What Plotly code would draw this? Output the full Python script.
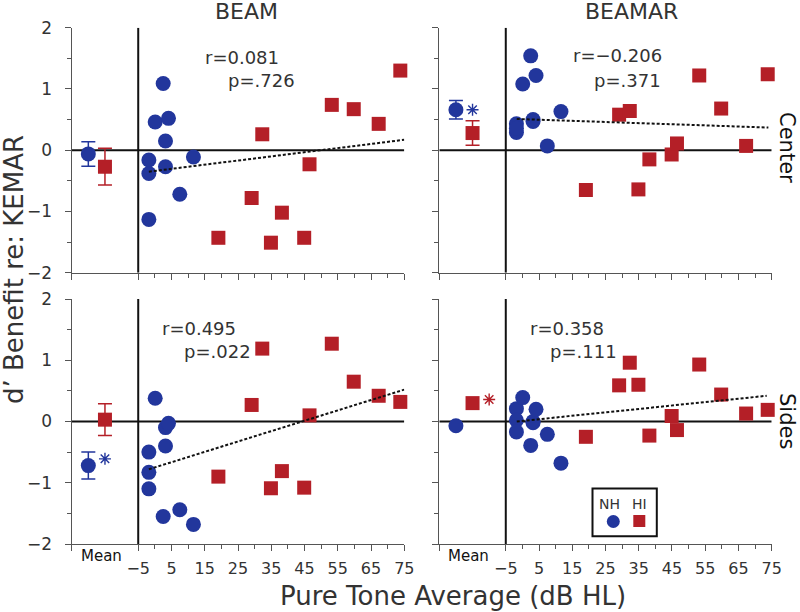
import plotly.graph_objects as go

# ---------------- data ----------------
PTA_NH = [-1.8, -1.8, -1.8, 0.1, 2.5, 3.2, 3.2, 4.1, 7.5, 11.6]
PTA_HI = [19.1, 29.1, 32.3, 34.9, 38.2, 44.9, 46.5, 53.2, 59.8, 67.3, 73.8]

NH_BEAM_CENTER = [-0.16, -0.38, -1.13, 0.46, 1.09, 0.15, -0.27, 0.52, -0.72, -0.11]
HI_BEAM_CENTER = [-1.43, -0.78, 0.26, -1.51, -1.02, -1.43, -0.23, 0.74, 0.67, 0.43, 1.30]

NH_BEAMAR_CENTER = [0.43, 0.29, 0.36, 1.08, 1.54, 0.50, 0.47, 1.22, 0.07, 0.63]
HI_BEAMAR_CENTER = [-0.65, 0.58, 0.64, -0.64, -0.15, -0.07, 0.11, 1.22, 0.68, 0.07, 1.24]

NH_BEAM_SIDES = [-0.50, -0.83, -1.10, 0.38, -1.55, -0.10, -0.40, -0.03, -1.44, -1.68]
HI_BEAM_SIDES = [-0.90, 0.27, 1.19, -1.09, -0.81, -1.08, 0.10, 1.27, 0.65, 0.42, 0.32]

NH_BEAMAR_SIDES = [0.21, 0.02, -0.17, 0.39, -0.39, -0.02, 0.00, 0.20, -0.21, -0.68]
HI_BEAMAR_SIDES = [-0.25, 0.59, 0.96, 0.60, -0.23, 0.09, -0.14, 0.93, 0.44, 0.13, 0.19]

MEAN_X = [-20, -15]  # NH mean, HI mean positions in the "Mean" column
MEAN_BEAM_CENTER = [-0.06, -0.27]
ERR_BEAM_CENTER = [0.20, 0.30]
MEAN_BEAMAR_CENTER = [0.66, 0.28]
ERR_BEAMAR_CENTER = [0.15, 0.20]
MEAN_BEAM_SIDES = [-0.72, 0.03]
ERR_BEAM_SIDES = [0.22, 0.26]
MEAN_BEAMAR_SIDES = [-0.07, 0.30]
ERR_BEAMAR_SIDES = [0.0, 0.0]

# significance asterisks: x, y, group
STAR_BEAMAR_CENTER = [-15.0, 0.66, "NH"]
STAR_BEAM_SIDES = [-15.0, -0.61, "NH"]
STAR_BEAMAR_SIDES = [-10.0, 0.36, "HI"]

FIT_BEAM_CENTER_X = [-1.8, 75.0]
FIT_BEAM_CENTER_Y = [-0.35, 0.17]
FIT_BEAMAR_CENTER_X = [-1.7, 74.0]
FIT_BEAMAR_CENTER_Y = [0.51, 0.37]
FIT_BEAM_SIDES_X = [-1.8, 75.0]
FIT_BEAM_SIDES_Y = [-0.78, 0.52]
FIT_BEAMAR_SIDES_X = [-1.7, 73.5]
FIT_BEAMAR_SIDES_Y = [0.0, 0.42]

STATS_BEAM_CENTER = ["r=0.081", "p=.726"]
STATS_BEAMAR_CENTER = ["r=−0.206", "p=.371"]
STATS_BEAM_SIDES = ["r=0.495", "p=.022"]
STATS_BEAMAR_SIDES = ["r=0.358", "p=.111"]

X_TICKS = [-25, -5, 5, 15, 25, 35, 45, 55, 65, 75]
X_TICK_TEXT = ["", "−5", "5", "15", "25", "35", "45", "55", "65", "75"]
X_MINOR = [0, 10, 20, 30, 40, 50, 60, 70]
Y_TICKS = [-2, -1, 0, 1, 2]
Y_TICK_TEXT = ["−2", "−1", "0", "1", "2"]

COLUMN_TITLES = ["BEAM", "BEAMAR"]
ROW_TITLES = ["Center", "Sides"]

# ---------------- style ----------------
BLUE = "#22369c"
RED = "#b41f27"
FONT = "DejaVu Sans"
TXT = "#333333"
AX = "#555555"

W, H = 800, 612
LEFT_DOM = [71.7 / W, 404.3 / W]
RIGHT_DOM = [439.3 / W, 771.7 / W]
TOP_DOM = [1 - 272.7 / H, 1 - 27.7 / H]
BOT_DOM = [1 - 544.0 / H, 1 - 299.0 / H]

panels = [
    dict(n="", xd=LEFT_DOM, yd=TOP_DOM, nh=NH_BEAM_CENTER, hi=HI_BEAM_CENTER,
         m=MEAN_BEAM_CENTER, e=ERR_BEAM_CENTER, fx=FIT_BEAM_CENTER_X, fy=FIT_BEAM_CENTER_Y,
         star=None, st=STATS_BEAM_CENTER, rpos=(26.1, 1.52), ppos=(32.1, 1.14),
         xlab=False, ylab=True, mean_px=None),
    dict(n="2", xd=RIGHT_DOM, yd=TOP_DOM, nh=NH_BEAMAR_CENTER, hi=HI_BEAMAR_CENTER,
         m=MEAN_BEAMAR_CENTER, e=ERR_BEAMAR_CENTER, fx=FIT_BEAMAR_CENTER_X, fy=FIT_BEAMAR_CENTER_Y,
         star=STAR_BEAMAR_CENTER, st=STATS_BEAMAR_CENTER, rpos=(28.6, 1.54), ppos=(31.6, 1.14),
         xlab=False, ylab=False, mean_px=None),
    dict(n="3", xd=LEFT_DOM, yd=BOT_DOM, nh=NH_BEAM_SIDES, hi=HI_BEAM_SIDES,
         m=MEAN_BEAM_SIDES, e=ERR_BEAM_SIDES, fx=FIT_BEAM_SIDES_X, fy=FIT_BEAM_SIDES_Y,
         star=STAR_BEAM_SIDES, st=STATS_BEAM_SIDES, rpos=(13.2, 1.52), ppos=(18.9, 1.15),
         xlab=True, ylab=True, mean_px=78.5),
    dict(n="4", xd=RIGHT_DOM, yd=BOT_DOM, nh=NH_BEAMAR_SIDES, hi=HI_BEAMAR_SIDES,
         m=MEAN_BEAMAR_SIDES, e=ERR_BEAMAR_SIDES, fx=FIT_BEAMAR_SIDES_X, fy=FIT_BEAMAR_SIDES_Y,
         star=STAR_BEAMAR_SIDES, st=STATS_BEAMAR_SIDES, rpos=(13.3, 1.52), ppos=(18.5, 1.15),
         xlab=True, ylab=False, mean_px=445.5),
]

fig = go.Figure()
layout = {}
shapes = []
annotations = []


def note(text, x, y, size, xref="paper", yref="paper", angle=0, color=TXT, xanchor="center"):
    annotations.append(dict(xref=xref, yref=yref, x=x, y=y, text=text, textangle=angle,
                            xanchor=xanchor, yanchor="middle", showarrow=False,
                            font=dict(family=FONT, size=size, color=color)))


for p in panels:
    n = p["n"]
    xr, yr = "x" + n, "y" + n
    layout["xaxis" + n] = dict(
        domain=p["xd"], anchor=yr, range=[-25, 75], showgrid=False, zeroline=False,
        showline=True, linecolor=AX, linewidth=1.3, ticks="outside", ticklen=6,
        tickwidth=1.2, tickcolor=AX, tickmode="array", tickvals=X_TICKS,
        ticktext=X_TICK_TEXT, showticklabels=p["xlab"], ticklabelstandoff=4,
        tickfont=dict(family=FONT, size=16, color=TXT), automargin=False,
        minor=dict(tickmode="array", tickvals=X_MINOR, ticks="outside", ticklen=4,
                   tickwidth=1.2, tickcolor=AX, showgrid=False),
        fixedrange=True)
    layout["yaxis" + n] = dict(
        domain=p["yd"], anchor=xr, range=[-2, 2], showgrid=False, zeroline=False,
        showline=True, linecolor=AX, linewidth=1.3, ticks="outside", ticklen=6,
        tickwidth=1.2, tickcolor=AX, tickmode="array", tickvals=Y_TICKS,
        ticktext=Y_TICK_TEXT, showticklabels=p["ylab"], ticklabelstandoff=9,
        tickfont=dict(family=FONT, size=17, color=TXT), automargin=False,
        minor=dict(dtick=0.5, tick0=0, ticks="outside", ticklen=4, tickwidth=1.2,
                   tickcolor=AX, showgrid=False),
        fixedrange=True)

    # reference lines: zero line and x = -5 separator
    shapes.append(dict(type="line", xref=xr, yref=yr, x0=-25, x1=75, y0=0, y1=0,
                       line=dict(color="#111", width=2), layer="below"))
    shapes.append(dict(type="line", xref=xr, yref=yr, x0=-5, x1=-5, y0=-2, y1=2,
                       line=dict(color="#111", width=2), layer="below"))

    # means with error bars
    fig.add_trace(go.Scatter(
        x=[MEAN_X[0]], y=[p["m"][0]], mode="markers", xaxis=xr, yaxis=yr,
        marker=dict(symbol="circle", size=15, color=BLUE, line=dict(width=0)),
        error_y=dict(type="data", array=[p["e"][0]], visible=p["e"][0] > 0,
                     color=BLUE, thickness=1.5, width=7),
        cliponaxis=False, showlegend=False))
    fig.add_trace(go.Scatter(
        x=[MEAN_X[1]], y=[p["m"][1]], mode="markers", xaxis=xr, yaxis=yr,
        marker=dict(symbol="square", size=14, color=RED, line=dict(width=0)),
        error_y=dict(type="data", array=[p["e"][1]], visible=p["e"][1] > 0,
                     color=RED, thickness=1.5, width=7),
        cliponaxis=False, showlegend=False))

    # individual listeners
    fig.add_trace(go.Scatter(
        x=PTA_NH, y=p["nh"], mode="markers", xaxis=xr, yaxis=yr, name="NH",
        marker=dict(symbol="circle", size=15, color=BLUE, line=dict(width=0)),
        cliponaxis=False, showlegend=False))
    fig.add_trace(go.Scatter(
        x=PTA_HI, y=p["hi"], mode="markers", xaxis=xr, yaxis=yr, name="HI",
        marker=dict(symbol="square", size=14, color=RED, line=dict(width=0)),
        cliponaxis=False, showlegend=False))

    # regression line
    fig.add_trace(go.Scatter(
        x=p["fx"], y=p["fy"], mode="lines", xaxis=xr, yaxis=yr,
        line=dict(color="#111", width=2, dash="3px,2px"), showlegend=False))

    # significance asterisk
    if p["star"] is not None:
        sc = BLUE if p["star"][2] == "NH" else RED
        fig.add_trace(go.Scatter(
            x=[p["star"][0]], y=[p["star"][1]], mode="markers", xaxis=xr, yaxis=yr,
            marker=dict(symbol="asterisk-open", size=10, color=sc, line=dict(color=sc, width=1.4)),
            cliponaxis=False, showlegend=False))

    # r / p statistics
    note(p["st"][0], p["rpos"][0], p["rpos"][1], 18, xref=xr, yref=yr)
    note(p["st"][1], p["ppos"][0], p["ppos"][1], 18, xref=xr, yref=yr)

    if p["mean_px"] is not None:
        note("Mean", p["mean_px"] / W, 1 - 555.5 / H, 15, color="#111", xanchor="left")

# column titles
note(COLUMN_TITLES[0], 246.7 / W, 1 - 11 / H, 22)
note(COLUMN_TITLES[1], 631.0 / W, 1 - 11 / H, 22)
# row titles
note(ROW_TITLES[0], 787 / W, 1 - 147 / H, 21, angle=90, color="#111")
note(ROW_TITLES[1], 787 / W, 1 - 421 / H, 21, angle=90, color="#111")
# axis titles
note("Pure Tone Average (dB HL)", 453 / W, 1 - 596 / H, 26)
note("d’ Benefit re: KEMAR", 14 / W, 1 - 270 / H, 26, angle=-90)

# custom legend box (text above symbols)
shapes.append(dict(type="rect", xref="paper", yref="paper", x0=592.5 / W, x1=656.8 / W,
                   y0=1 - 536.3 / H, y1=1 - 488.5 / H, line=dict(color="#111", width=2),
                   fillcolor="white", layer="below"))
note("NH", 609.5 / W, 1 - 504 / H, 14)
note("HI", 639.5 / W, 1 - 504 / H, 14)
layout["xaxis5"] = dict(domain=[0, 1], anchor="y5", range=[0, W], visible=False,
                        fixedrange=True, automargin=False)
layout["yaxis5"] = dict(domain=[0, 1], anchor="x5", range=[H, 0], visible=False,
                        fixedrange=True, automargin=False)
fig.add_trace(go.Scatter(x=[613.3], y=[521.5], mode="markers", xaxis="x5", yaxis="y5",
                         marker=dict(symbol="circle", size=13, color=BLUE), showlegend=False,
                         hoverinfo="skip"))
fig.add_trace(go.Scatter(x=[639.3], y=[521.0], mode="markers", xaxis="x5", yaxis="y5",
                         marker=dict(symbol="square", size=12, color=RED), showlegend=False,
                         hoverinfo="skip"))

fig.update_layout(
    width=W, height=H, margin=dict(l=0, r=0, t=0, b=0, pad=0, autoexpand=False),
    paper_bgcolor="white", plot_bgcolor="rgba(0,0,0,0)",
    shapes=shapes, annotations=annotations, showlegend=False,
    font=dict(family=FONT, color=TXT),
    **layout)

fig.write_html("out.html", config={"displayModeBar": False},
               post_script="document.body.style.margin='0';document.body.style.overflow='hidden';")
